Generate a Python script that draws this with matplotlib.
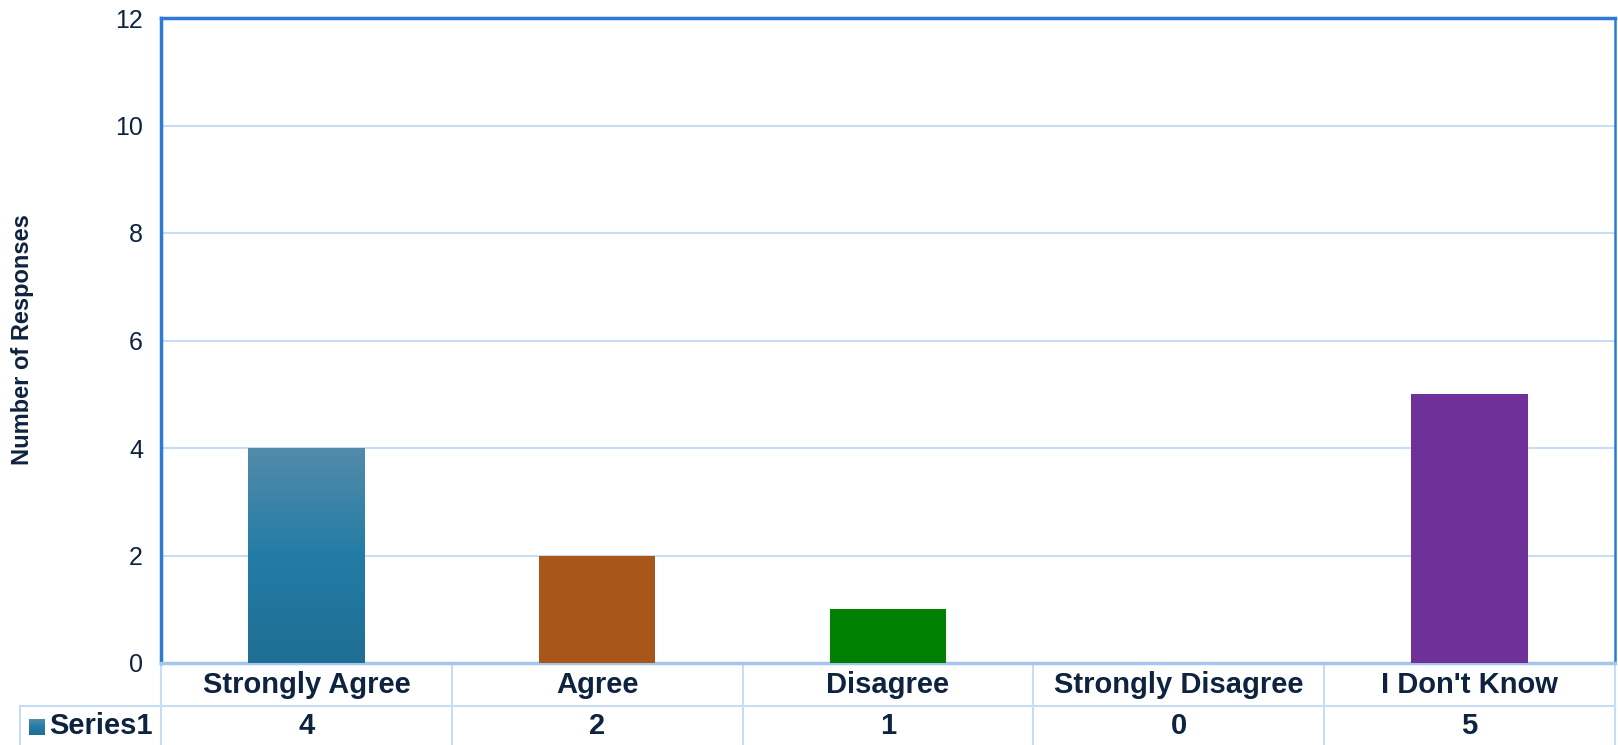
import numpy as np
import matplotlib
matplotlib.use("Agg")
import matplotlib.pyplot as plt
from matplotlib.transforms import blended_transform_factory
from matplotlib.colors import LinearSegmentedColormap

plt.rcParams['font.family'] = ['Liberation Sans', 'DejaVu Sans']

categories = ["Strongly Agree", "Agree", "Disagree", "Strongly Disagree", "I Don't Know"]
values = [4, 2, 1, 0, 5]
series_name = "Series1"
bar_colors = ["#2379A3", "#A8561A", "#008000", "#2379A3", "#70309A"]
y_ticks = [0, 2, 4, 6, 8, 10, 12]

W, H = 1618, 745
fig = plt.figure(figsize=(W / 100, H / 100), dpi=100)
left, right, top, bottom = 161, 1615, 18, 663
ax = fig.add_axes([left / W, 1 - bottom / H, (right - left) / W, (bottom - top) / H])

text_col = "#0E2340"
grid_col = "#C8DDF3"

x = np.arange(len(categories))
bars = ax.bar(x, values, width=0.4, color=bar_colors, zorder=3)

# gradient fill on the first series bar
grad = LinearSegmentedColormap.from_list("g", ["#1F6E94", "#237CA5", "#538BAA"])
b0 = bars[0]
b0.set_facecolor("none")
img = ax.imshow(np.linspace(0, 1, 256).reshape(-1, 1), cmap=grad, origin="lower",
                extent=[b0.get_x(), b0.get_x() + b0.get_width(), 0, b0.get_height()],
                aspect="auto", zorder=3)
img.set_clip_path(b0)

ax.set_xlim(-0.5, len(categories) - 0.5)
ax.set_ylim(0, 12)
ax.set_yticks(y_ticks)
ax.set_yticklabels([str(t) for t in y_ticks], fontsize=18, color=text_col)
ax.tick_params(axis="y", length=0, pad=13)
ax.set_xticks([])
ax.yaxis.grid(True, color=grid_col, linewidth=1.5, zorder=0)
ax.set_axisbelow(True)

for side in ("left", "top"):
    ax.spines[side].set_color("#2A7AD6")
    ax.spines[side].set_linewidth(2.5)
ax.spines["right"].set_color("#2A7AD6")
ax.spines["right"].set_linewidth(1.8)
ax.spines["bottom"].set_color("#A3C6EC")
ax.spines["bottom"].set_linewidth(2.5)

fig.text(23 / W, 1 - 340 / H, "Number of Responses", rotation=90, fontsize=17,
         fontweight="bold", color=text_col, ha="center", va="center")

# data table under the axis
tr = blended_transform_factory(ax.transData, fig.transFigure)
def fy(py):
    return 1 - py / H

row1_top, row_mid, row_bot = 663, 706, 745
for i in range(len(categories) + 1):
    xb = i - 0.5
    ax.plot([xb, xb], [fy(row1_top), fy(row_bot)], transform=tr, color=grid_col,
            linewidth=1.5, clip_on=False, zorder=1)
ax.plot([-0.5, len(categories) - 0.5], [fy(row_mid), fy(row_mid)], transform=tr,
        color=grid_col, linewidth=1.5, clip_on=False)
fig.add_artist(plt.Line2D([20 / W, left / W], [fy(row_mid), fy(row_mid)],
                          color=grid_col, linewidth=1.5))
fig.add_artist(plt.Line2D([20 / W, 20 / W], [fy(row_mid), fy(row_bot)],
                          color=grid_col, linewidth=1.5))

for i, (c, v) in enumerate(zip(categories, values)):
    ax.text(i, fy(685), c, transform=tr, ha="center", va="center", fontsize=21,
            fontweight="bold", color=text_col)
    ax.text(i, fy(726), str(v), transform=tr, ha="center", va="center", fontsize=21,
            fontweight="bold", color=text_col)

# legend key in the table
key = fig.add_axes([29 / W, 1 - 735 / H, 16 / W, 16 / H])
key.imshow(np.linspace(0, 1, 64).reshape(-1, 1), cmap=grad, origin="lower",
           aspect="auto")
key.axis("off")
fig.text(49 / W, fy(726), series_name, ha="left", va="center", fontsize=21,
         fontweight="bold", color=text_col)

fig.savefig("out.png", dpi=100)
